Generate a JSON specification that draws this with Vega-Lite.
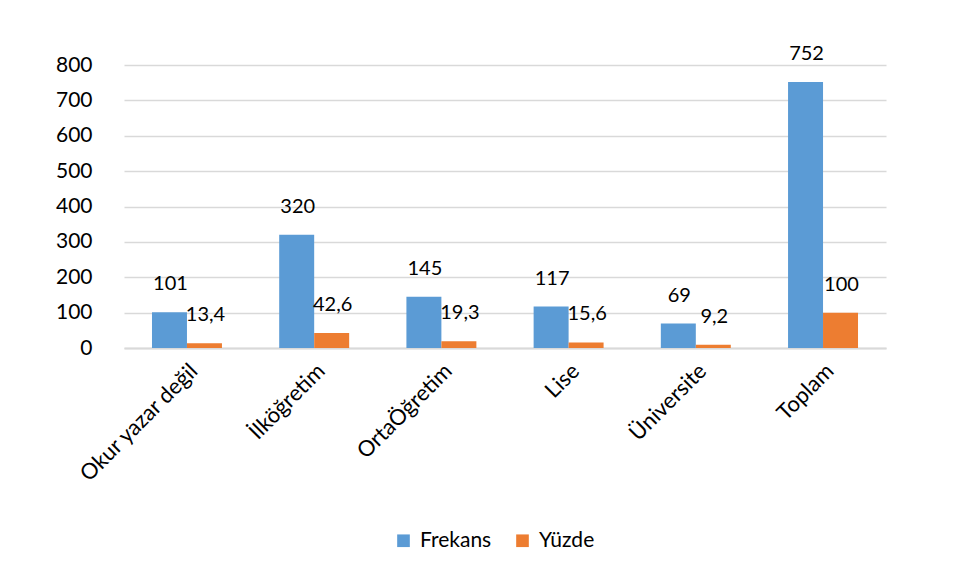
{
  "$schema": "https://vega.github.io/schema/vega-lite/v6.json",
  "autosize": {"type": "none"},
  "width": 762,
  "height": 283,
  "padding": {"left": 124, "top": 65, "right": 75, "bottom": 232},
  "background": "white",
  "data": {
    "values": [
      {"kategori": "Okur yazar değil", "seri": "Frekans", "deger": 101, "etiket": "101"},
      {"kategori": "Okur yazar değil", "seri": "Yüzde", "deger": 13.4, "etiket": "13,4"},
      {"kategori": "İlköğretim", "seri": "Frekans", "deger": 320, "etiket": "320"},
      {"kategori": "İlköğretim", "seri": "Yüzde", "deger": 42.6, "etiket": "42,6"},
      {"kategori": "OrtaÖğretim", "seri": "Frekans", "deger": 145, "etiket": "145"},
      {"kategori": "OrtaÖğretim", "seri": "Yüzde", "deger": 19.3, "etiket": "19,3"},
      {"kategori": "Lise", "seri": "Frekans", "deger": 117, "etiket": "117"},
      {"kategori": "Lise", "seri": "Yüzde", "deger": 15.6, "etiket": "15,6"},
      {"kategori": "Üniversite", "seri": "Frekans", "deger": 69, "etiket": "69"},
      {"kategori": "Üniversite", "seri": "Yüzde", "deger": 9.2, "etiket": "9,2"},
      {"kategori": "Toplam", "seri": "Frekans", "deger": 752, "etiket": "752"},
      {"kategori": "Toplam", "seri": "Yüzde", "deger": 100, "etiket": "100"}
    ]
  },
  "encoding": {
    "x": {
      "field": "kategori", "type": "nominal", "sort": null, "title": null,
      "scale": {"paddingInner": 0.45, "paddingOuter": 0.22},
      "axis": {"labelAngle": -45, "labelFontSize": 22, "labelFont": "Lato", "labelColor": "#000000",
               "domainColor": "#D9D9D9", "domainWidth": 2, "ticks": false, "labelPadding": 12}
    },
    "xOffset": {"field": "seri", "type": "nominal", "scale": {"paddingInner": 0}},
    "y": {
      "field": "deger", "type": "quantitative", "title": null,
      "scale": {"domain": [0, 800], "nice": false},
      "axis": {"values": [0,100,200,300,400,500,600,700,800], "labelFontSize": 21, "labelFont": "Lato",
               "labelColor": "#000000", "domain": false, "ticks": false, "labelPadding": 32,
               "gridColor": "#D9D9D9", "gridWidth": 1.3}
    }
  },
  "layer": [
    {
      "mark": {"type": "bar", "stroke": null},
      "encoding": {
        "color": {
          "field": "seri", "type": "nominal", "title": null,
          "scale": {"domain": ["Frekans", "Yüzde"], "range": ["#5B9BD5", "#ED7D31"]},
          "legend": {"orient": "none", "legendX": 269, "legendY": 465, "direction": "horizontal",
                     "labelFontSize": 21, "labelFont": "Lato", "labelColor": "#000000",
                     "symbolType": "square", "symbolSize": 160, "columnPadding": 20, "labelOffset": 6}
        }
      }
    },
    {
      "mark": {"type": "text", "baseline": "bottom", "dy": -18, "dx": 1, "fontSize": 20, "font": "Lato", "color": "#000000"},
      "encoding": {"text": {"field": "etiket"}}
    }
  ],
  "config": {"view": {"stroke": null}}
}
